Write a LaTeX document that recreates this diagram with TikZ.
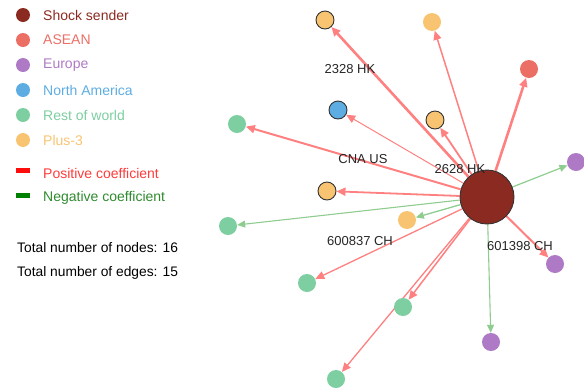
\documentclass[tikz,border=0pt]{standalone}
\usepackage{fontspec}
\setmainfont{Liberation Sans}
\usetikzlibrary{arrows.meta}
\pgfdeclarelayer{edges}
\pgfsetlayers{edges,main}
\definecolor{cShock}{HTML}{8B2A20}
\definecolor{cAsean}{HTML}{EC6F66}
\definecolor{cEurope}{HTML}{AF7AC5}
\definecolor{cNA}{HTML}{5DADE2}
\definecolor{cRow}{HTML}{7DCEA0}
\definecolor{cPlus}{HTML}{F8C471}
\definecolor{cPos}{HTML}{FF8080}
\definecolor{cNeg}{HTML}{8FCC8F}
\definecolor{cPosTxt}{HTML}{FF3B3B}
\definecolor{cNegTxt}{HTML}{2E8B2E}
\tikzset{
  x=1pt, y=-1pt,
  dot/.style={circle, inner sep=0pt, minimum size=18pt, fill=#1},
  odot/.style={circle, inner sep=0pt, minimum size=18pt, fill=#1, draw=black!80, line width=0.9pt},
  legdot/.style={circle, inner sep=0pt, minimum size=14pt, fill=#1},
  legtxt/.style={anchor=west, inner sep=0pt, font=\fontsize{14}{16}\selectfont, text=#1},
  pos/.style={draw=cPos, line width=#1, -{Triangle[length=9pt,width=8pt]}},
  neg/.style={draw=cNeg, line width=#1, -{Triangle[length=8pt,width=7pt]}},
  lbl/.style={font=\fontsize{13}{15}\selectfont, text=black!85, inner sep=0pt},
  info/.style={anchor=west, inner sep=0pt, font=\fontsize{13.8}{16}\selectfont, text=black}
}
\begin{document}
\begin{tikzpicture}
\useasboundingbox (0,0) rectangle (584,389);
% legend
\node[legdot=cShock] (l1) at (23,15) {};
\node[legtxt=cShock] (t1) at (43,15) {Shock sender};
\node[legdot=cAsean] (l2) at (23,40) {};
\node[legtxt=cAsean] (t2) at (43,40) {ASEAN};
\node[legdot=cEurope] (l3) at (23,65) {};
\node[legtxt=cEurope] (t3) at (43,65) {Europe};
\node[legdot=cNA] (l4) at (23,90) {};
\node[legtxt=cNA] (t4) at (43,90) {North America};
\node[legdot=cRow] (l5) at (23,115) {};
\node[legtxt=cRow] (t5) at (43,115) {Rest of world};
\node[legdot=cPlus] (l6) at (23,140) {};
\node[legtxt=cPlus] (t6) at (43,140) {Plus-3};
\fill[red!95] (16,168) rectangle (30,172.5);
\node[legtxt=cPosTxt] (t7) at (43,173) {Positive coefficient};
\fill[green!50!black] (16,193) rectangle (30,197.5);
\node[legtxt=cNegTxt] (t8) at (43,198) {Negative coefficient};
\node[info] (i1) at (17,248) {Total number of nodes: 16};
\node[info] (i2) at (17,273) {Total number of edges: 15};
% nodes
\node[circle, inner sep=0pt, minimum size=54pt, fill=cShock, draw=black!80, line width=0.9pt] (c) at (487,197) {};
\node[odot=cPlus] (n1) at (325,20) {};
\node[dot=cPlus] (n2) at (432,22) {};
\node[dot=cAsean] (n3) at (529,69) {};
\node[odot=cNA] (n4) at (338,110) {};
\node[odot=cPlus] (n5) at (435,120) {};
\node[dot=cRow] (n6) at (237,124) {};
\node[dot=cEurope] (n7) at (576,162) {};
\node[odot=cPlus] (n8) at (327,191) {};
\node[dot=cRow] (n9) at (228,226) {};
\node[dot=cPlus] (n10) at (407,220) {};
\node[dot=cRow] (n11) at (307,283) {};
\node[dot=cRow] (n12) at (403,307) {};
\node[dot=cRow] (n13) at (336,379) {};
\node[dot=cEurope] (n14) at (555,264) {};
\node[dot=cEurope] (n15) at (491,342) {};
% edges
\begin{pgfonlayer}{edges}
\draw[pos=2.6pt] (c) -- (n1);
\draw[pos=1.5pt] (c) -- (n2);
\draw[pos=2.6pt] (c) -- (n3);
\draw[pos=1pt] (c) -- (n4);
\draw[pos=1.8pt] (c) -- (n5);
\draw[pos=2pt] (c) -- (n6);
\draw[neg=1.2pt] (c) -- (n7);
\draw[pos=1.8pt] (c) -- (n8);
\draw[neg=1.1pt] (c) -- (n9);
\draw[neg=1.3pt] (c) -- (n10);
\draw[pos=1.3pt] (c) -- (n11);
\draw[pos=1.5pt] (c) -- (n12);
\draw[pos=1.3pt] (c) -- (n13);
\draw[pos=2pt] (c) -- (n14);
\draw[neg=1.1pt] (c) -- (n15);
\end{pgfonlayer}
% labels
\node[lbl] (a1) at (350,69) {2328 HK};
\node[lbl] (a2) at (363,159) {CNA US};
\node[lbl] (a3) at (460,169) {2628 HK};
\node[lbl] (a4) at (360,241) {600837 CH};
\node[lbl] (a5) at (520,246) {601398 CH};
\end{tikzpicture}
\end{document}
